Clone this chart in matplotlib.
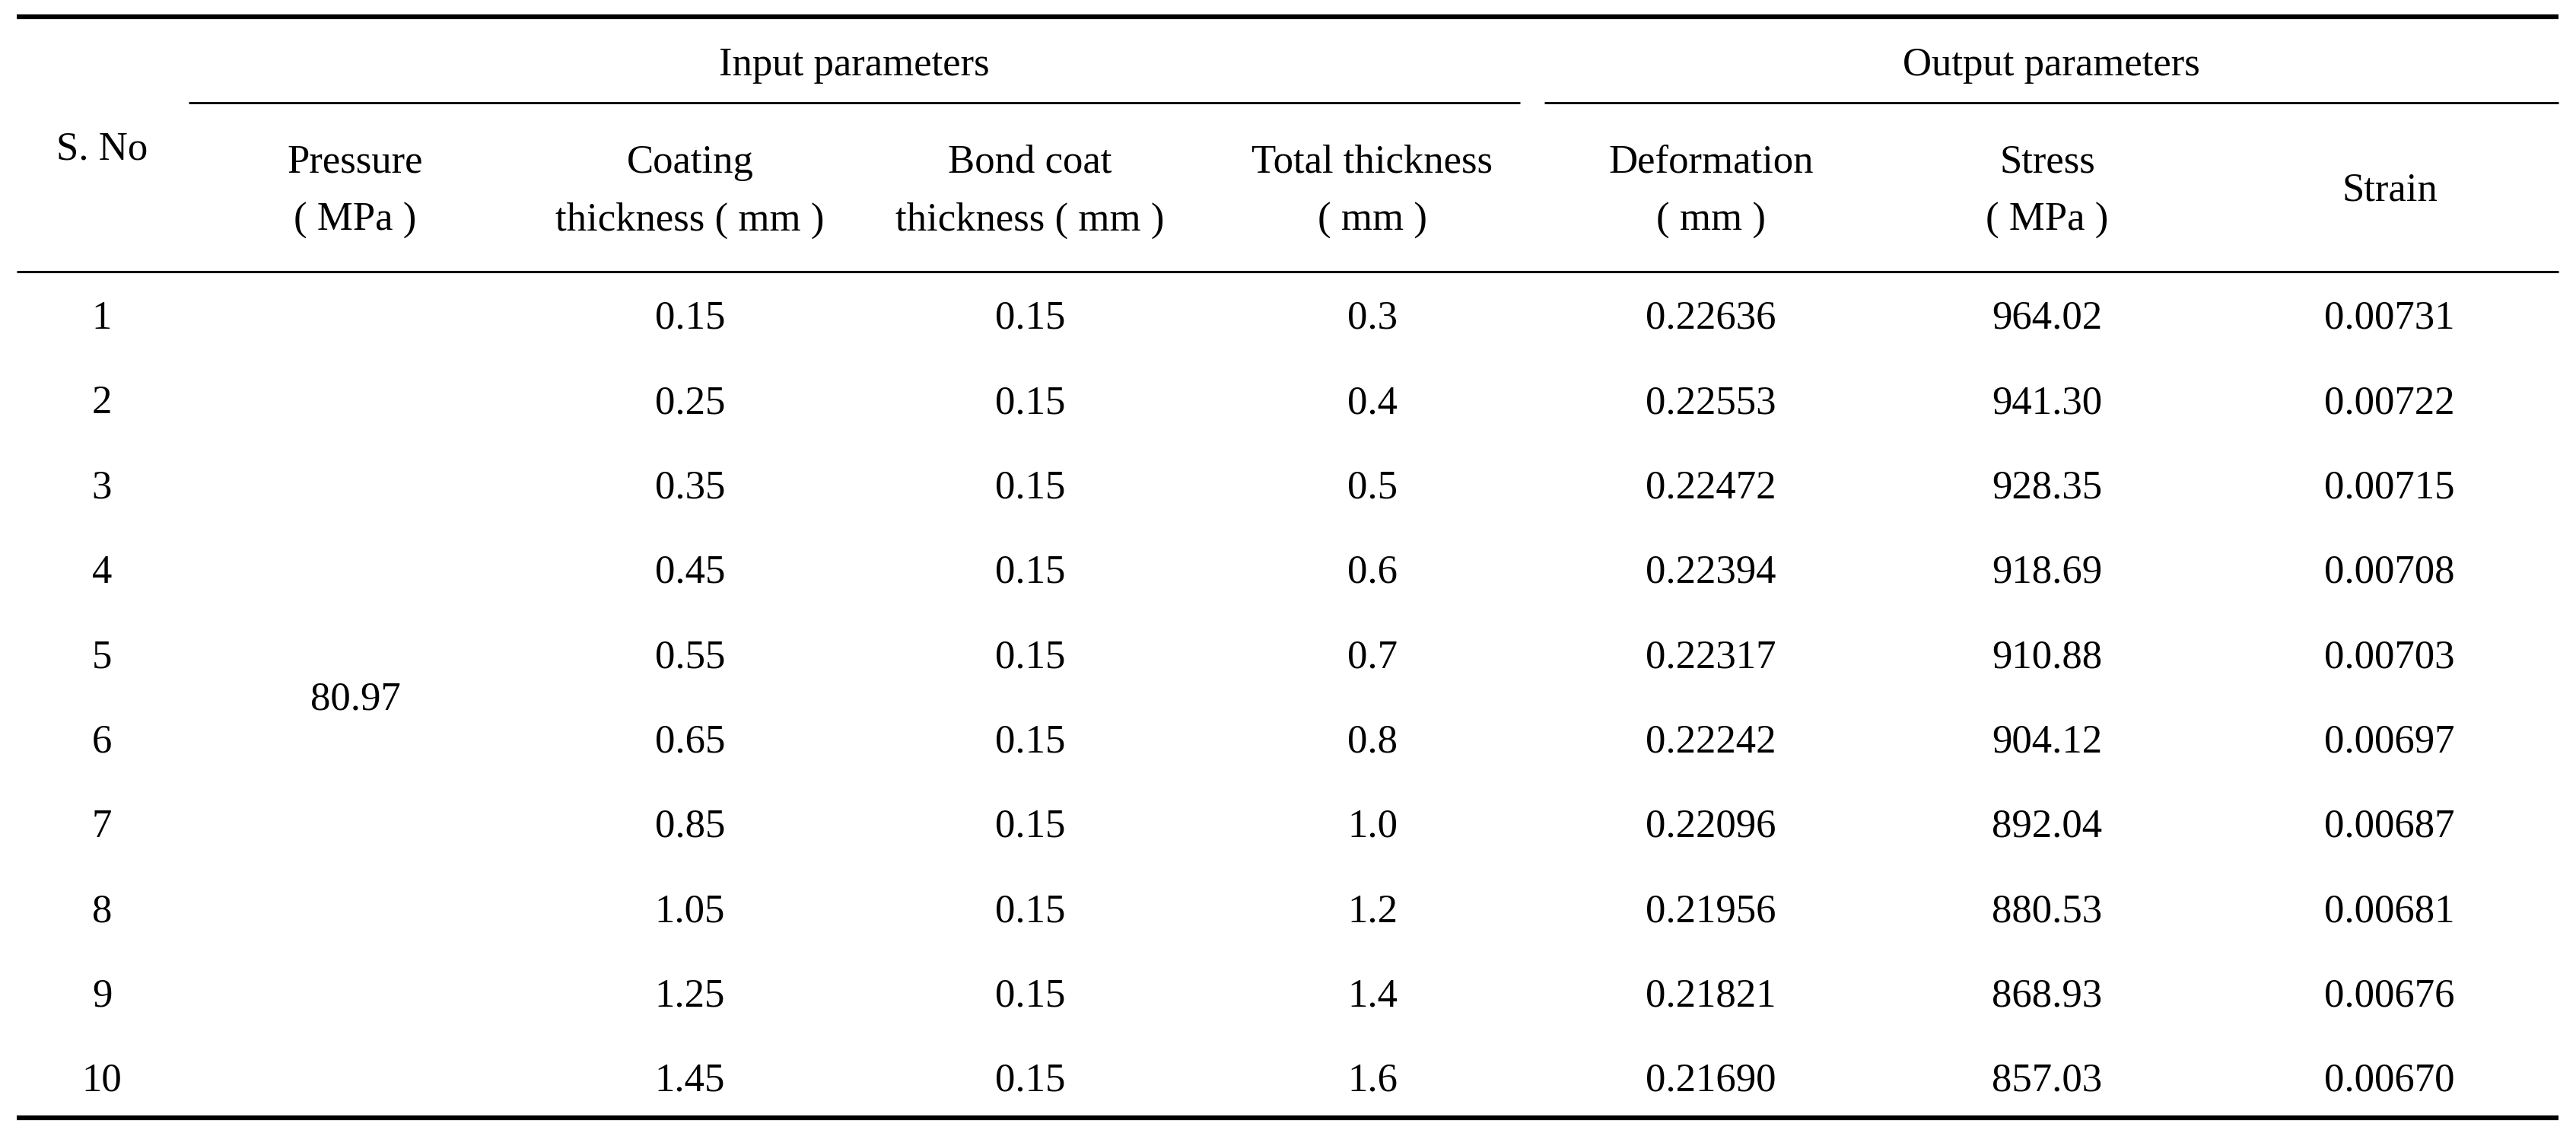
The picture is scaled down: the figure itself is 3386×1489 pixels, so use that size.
import matplotlib
matplotlib.use("Agg")
import matplotlib.pyplot as plt

# ---- data ----
sno = ["1", "2", "3", "4", "5", "6", "7", "8", "9", "10"]
pressure = "80.97"
coating = ["0.15", "0.25", "0.35", "0.45", "0.55", "0.65", "0.85", "1.05", "1.25", "1.45"]
bond = ["0.15"] * 10
total = ["0.3", "0.4", "0.5", "0.6", "0.7", "0.8", "1.0", "1.2", "1.4", "1.6"]
deformation = ["0.22636", "0.22553", "0.22472", "0.22394", "0.22317",
               "0.22242", "0.22096", "0.21956", "0.21821", "0.21690"]
stress = ["964.02", "941.30", "928.35", "918.69", "910.88",
          "904.12", "892.04", "880.53", "868.93", "857.03"]
strain = ["0.00731", "0.00722", "0.00715", "0.00708", "0.00703",
          "0.00697", "0.00687", "0.00681", "0.00676", "0.00670"]
group_headers = ["Input parameters", "Output parameters"]
col_headers = ["S. No", "Pressure\n( MPa )", "Coating\nthickness ( mm )",
               "Bond coat\nthickness ( mm )", "Total thickness\n( mm )",
               "Deformation\n( mm )", "Stress\n( MPa )", "Strain"]

# ---- layout ----
W, H = 3387, 1489
fig = plt.figure(figsize=(W / 100, H / 100), dpi=100)
ax = fig.add_axes([0, 0, 1, 1])
ax.set_xlim(0, W)
ax.set_ylim(H, 0)
ax.axis("off")

plt.rcParams["font.family"] = ["Liberation Serif", "DejaVu Serif"]
fs = 38
col_x = [134, 467, 907, 1354, 1804, 2249, 2691, 3141]
x_left, x_right = 22, 3363
y_top, y_group, y_head, y_bot = 22, 135, 357, 1469
row_y0, row_dy = 419, 111.3

# rules
ax.plot([x_left, x_right], [y_top, y_top], color="black", lw=4.5, solid_capstyle="butt")
ax.plot([x_left, x_right], [y_head, y_head], color="black", lw=2.2, solid_capstyle="butt")
ax.plot([x_left, x_right], [y_bot, y_bot], color="black", lw=4.5, solid_capstyle="butt")
ax.plot([248, 1998], [y_group, y_group], color="black", lw=2.0, solid_capstyle="butt")
ax.plot([2030, x_right], [y_group, y_group], color="black", lw=2.0, solid_capstyle="butt")

# group headers
ax.text(1123, 86, group_headers[0], ha="center", va="center", fontsize=fs)
ax.text(2696, 86, group_headers[1], ha="center", va="center", fontsize=fs)

# column headers
ax.text(col_x[0], 196, col_headers[0], ha="center", va="center", fontsize=fs)
for i in range(1, 7):
    ax.text(col_x[i], 252, col_headers[i], ha="center", va="center",
            fontsize=fs, linespacing=1.75)
ax.text(col_x[7], 250, col_headers[7], ha="center", va="center", fontsize=fs)

# body
cols = [sno, None, coating, bond, total, deformation, stress, strain]
for r in range(10):
    y = row_y0 + r * row_dy
    for c, vals in enumerate(cols):
        if vals is None:
            continue
        ax.text(col_x[c], y, vals[r], ha="center", va="center", fontsize=fs)
ax.text(col_x[1], row_y0 + 4.5 * row_dy, pressure, ha="center", va="center", fontsize=fs)

fig.savefig("out.png", dpi=100, facecolor="white")
